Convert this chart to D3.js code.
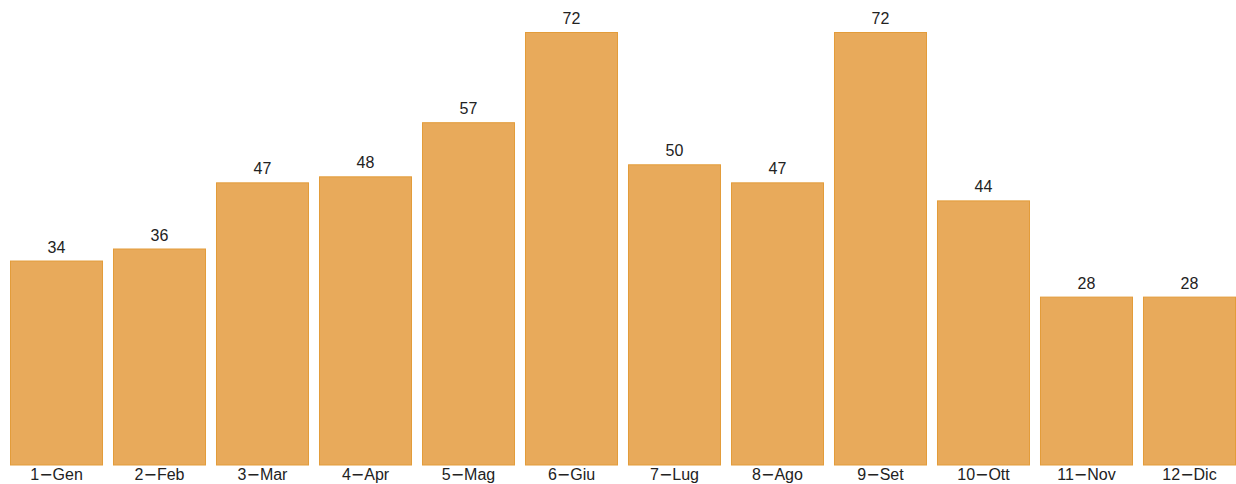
<!DOCTYPE html>
<html>
<head>
<meta charset="utf-8">
<script src="https://cdn.jsdelivr.net/npm/d3@7"></script>
<style>
    body { margin: 0; background: #fff; }
    svg text { font-family: "Liberation Sans", Arial, sans-serif; }
    .minus { font-family: "DejaVu Sans", sans-serif; }
</style>
</head>
<body>
<div id="chart"></div>
<script>
// data
const months = ["1−Gen", "2−Feb", "3−Mar", "4−Apr", "5−Mag", "6−Giu",
                "7−Lug", "8−Ago", "9−Set", "10−Ott", "11−Nov", "12−Dic"];
const values = [34, 36, 47, 48, 57, 72, 50, 47, 72, 44, 28, 28];

const width = 1236, height = 484;
const margin = {top: 32, right: 0, bottom: 19, left: 10};

let svg = d3.select("#chart").append("svg")
    .attr("width", width)
    .attr("height", height);

let x = d3.scaleBand()
    .domain(months)
    .range([margin.left, width - margin.right])
    .paddingInner(0.097)
    .paddingOuter(0);

let y = d3.scaleLinear()
    .domain([0, d3.max(values)])
    .range([height - margin.bottom, margin.top]);

// bars
svg.selectAll(".bar")
    .data(values)
    .enter().append("rect")
    .attr("class", "bar")
    .attr("x", (d, i) => x(months[i]) + 0.5)
    .attr("width", x.bandwidth() - 1)
    .attr("y", d => y(d) + 0.5)
    .attr("height", d => y(0) - y(d) - 0.5)
    .attr("fill", "#e8aa5b")
    .attr("stroke", "#e39c3a")
    .attr("stroke-width", 1);

// value labels
svg.selectAll(".value")
    .data(values)
    .enter().append("text")
    .attr("class", "value")
    .attr("x", (d, i) => x(months[i]) + x.bandwidth() / 2)
    .attr("y", d => y(d) - 8)
    .attr("text-anchor", "middle")
    .attr("font-size", "16px")
    .attr("fill", "#222")
    .text(d => d);

// x axis labels (minus sign drawn in DejaVu like the original)
let xAxis = d3.axisBottom(x).tickSize(0).tickPadding(4);
let gx = svg.append("g")
    .attr("transform", `translate(0, ${y(0)})`)
    .call(xAxis);
gx.select(".domain").remove();
gx.selectAll("text")
    .attr("font-size", "16px")
    .attr("font-family", "Liberation Sans, Arial, sans-serif")
    .attr("fill", "#222")
    .attr("dy", null)
    .attr("y", 15)
    .each(function(d) {
        let parts = d.split("−");
        let t = d3.select(this).text("");
        t.append("tspan").text(parts[0]);
        t.append("tspan").attr("class", "minus").text("−");
        t.append("tspan").text(parts[1]);
    });
</script>
</body>
</html>
